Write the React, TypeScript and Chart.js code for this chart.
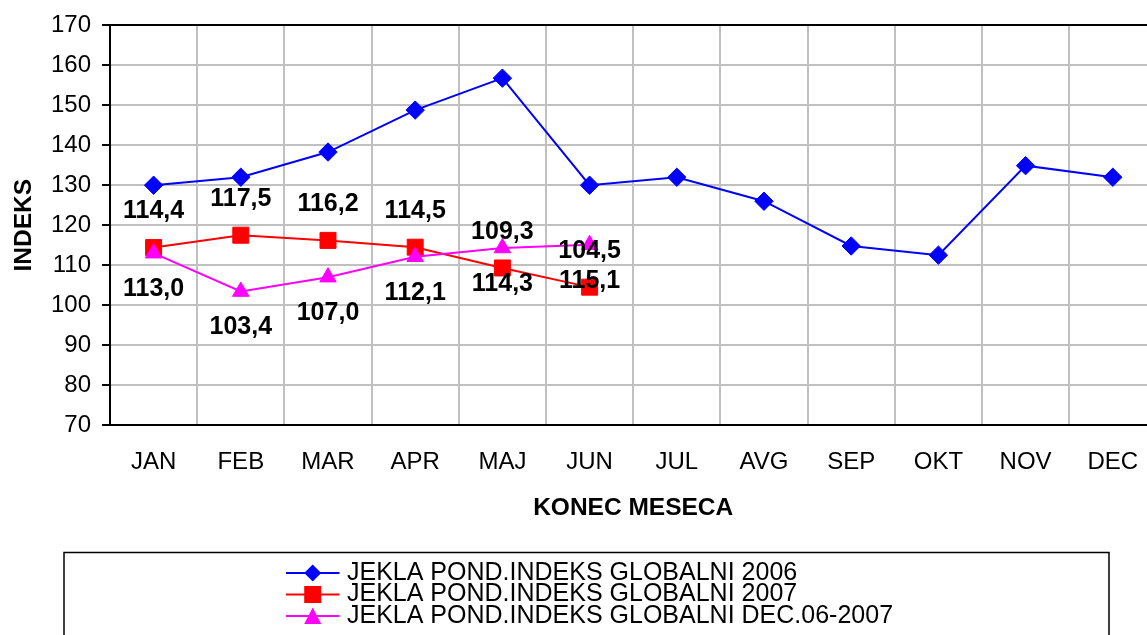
import React, { useEffect, useRef } from 'react';
import { Chart, registerables } from 'chart.js';

Chart.register(...registerables);

const months = ['JAN', 'FEB', 'MAR', 'APR', 'MAJ', 'JUN', 'JUL', 'AVG', 'SEP', 'OKT', 'NOV', 'DEC'];
const globalni2006 = [130, 132, 138.3, 148.8, 156.8, 130, 132, 126, 114.8, 112.5, 134.9, 132];
const globalni2007 = [114.4, 117.5, 116.2, 114.5, 109.3, 104.5];
const globalniDec062007 = [113.0, 103.4, 107.0, 112.1, 114.3, 115.1];
const seriesNames = [
  'JEKLA POND.INDEKS GLOBALNI 2006',
  'JEKLA POND.INDEKS GLOBALNI 2007',
  'JEKLA POND.INDEKS GLOBALNI DEC.06-2007',
];
const yMin = 70;
const yMax = 170;
const yStep = 10;

const FONT = '"Liberation Sans", Arial, Helvetica, sans-serif';
const CANVAS_W = 1170;
const CANVAS_H = 660;

function drawMarker(ctx: CanvasRenderingContext2D, style: string, x: number, y: number, color: string) {
  ctx.save();
  ctx.fillStyle = color;
  ctx.beginPath();
  if (style === 'rectRot') {
    const r = 8.5;
    ctx.moveTo(x - r, y);
    ctx.lineTo(x, y - r);
    ctx.lineTo(x + r, y);
    ctx.lineTo(x, y + r);
    ctx.closePath();
  } else if (style === 'rect') {
    ctx.rect(x - 8.5, y - 8.5, 17, 17);
  } else {
    ctx.moveTo(x, y - 8.5);
    ctx.lineTo(x + 8.5, y + 8);
    ctx.lineTo(x - 8.5, y + 8);
    ctx.closePath();
  }
  ctx.fill();
  ctx.restore();
}

const plotBorderPlugin = {
  id: 'plotBorder',
  beforeDatasetsDraw(chart: any) {
    const { ctx, chartArea } = chart;
    ctx.save();
    ctx.strokeStyle = '#000';
    ctx.lineWidth = 2;
    ctx.beginPath();
    ctx.moveTo(chartArea.left, Math.round(chartArea.top));
    ctx.lineTo(chartArea.right, Math.round(chartArea.top));
    ctx.lineTo(chartArea.right, chartArea.bottom);
    ctx.stroke();
    ctx.restore();
  },
};

const dataLabelPlugin = {
  id: 'pointValueLabels',
  afterDatasetsDraw(chart: any) {
    const { ctx } = chart;
    ctx.save();
    ctx.font = `bold 25px ${FONT}`;
    ctx.fillStyle = '#000';
    ctx.textAlign = 'center';
    ctx.textBaseline = 'middle';
    chart.data.datasets.forEach((ds: any, i: number) => {
      if (!ds.labelOffset) return;
      const meta = chart.getDatasetMeta(i);
      meta.data.forEach((pt: any, j: number) => {
        const v = ds.data[j];
        if (v == null) return;
        const txt = Number(v).toFixed(1).replace('.', ',');
        ctx.fillText(txt, pt.x, pt.y + ds.labelOffset);
      });
    });
    ctx.restore();
  },
};

const boxedLegendPlugin = {
  id: 'boxedLegend',
  afterDraw(chart: any) {
    const { ctx } = chart;
    ctx.save();
    ctx.strokeStyle = '#000';
    ctx.lineWidth = 1.5;
    ctx.strokeRect(64, 552.5, 1045, 140);
    const rows = [573, 594.5, 616];
    ctx.font = `25px ${FONT}`;
    ctx.textBaseline = 'middle';
    ctx.textAlign = 'left';
    chart.data.datasets.forEach((ds: any, i: number) => {
      const y = rows[i];
      ctx.strokeStyle = ds.borderColor;
      ctx.lineWidth = 2;
      ctx.beginPath();
      ctx.moveTo(286, y);
      ctx.lineTo(339.5, y);
      ctx.stroke();
      drawMarker(ctx, ds.pointStyle, 312.7, y, ds.borderColor);
      ctx.fillStyle = '#000';
      ctx.fillText(ds.label, 347, y);
    });
    ctx.restore();
  },
};

export default function App() {
  const canvasRef = useRef<HTMLCanvasElement | null>(null);

  useEffect(() => {
    const canvas = canvasRef.current;
    if (!canvas) return;
    const chart = new Chart(canvas, {
      type: 'line',
      data: {
        labels: months,
        datasets: [
          {
            label: seriesNames[0],
            data: globalni2006,
            borderColor: '#0000FF',
            backgroundColor: '#0000FF',
            borderWidth: 2,
            pointStyle: 'rectRot',
            pointRadius: 9.2,
            pointBorderWidth: 1,
            pointBackgroundColor: '#0000FF',
            pointBorderColor: '#0000FF',
            tension: 0,
            order: 2,
          } as any,
          {
            label: seriesNames[1],
            data: globalni2007,
            borderColor: '#FF0000',
            backgroundColor: '#FF0000',
            borderWidth: 2,
            pointStyle: 'rect',
            pointRadius: 11.3,
            pointBorderWidth: 1,
            pointBackgroundColor: '#FF0000',
            pointBorderColor: '#FF0000',
            tension: 0,
            order: 1,
            labelOffset: -36,
          } as any,
          {
            label: seriesNames[2],
            data: globalniDec062007,
            borderColor: '#FF00FF',
            backgroundColor: '#FF00FF',
            borderWidth: 2,
            pointStyle: 'triangle',
            pointRadius: 9.5,
            pointBorderWidth: 1,
            pointBackgroundColor: '#FF00FF',
            pointBorderColor: '#FF00FF',
            tension: 0,
            order: 0,
            labelOffset: 36,
          } as any,
        ],
      },
      options: {
        animation: false,
        responsive: false,
        maintainAspectRatio: false,
        devicePixelRatio: 1,
        events: [],
        layout: {
          padding: { left: 0, top: 24, right: CANVAS_W - 1156.4, bottom: 135 },
        },
        plugins: {
          legend: { display: false },
          tooltip: { enabled: false },
          title: { display: false },
        },
        scales: {
          x: {
            type: 'category',
            offset: true,
            grid: {
              offset: true,
              color: '#c0c0c0',
              lineWidth: 2,
              drawTicks: false,
            },
            border: { color: '#000', width: 2 },
            ticks: {
              color: '#000',
              font: { family: FONT, size: 24 },
              padding: 23,
              maxRotation: 0,
              autoSkip: false,
            },
            title: {
              display: true,
              text: 'KONEC MESECA',
              color: '#000',
              font: { family: FONT, size: 24.5, weight: 'bold' },
              padding: { top: 0, bottom: 2 },
            },
            afterFit: (s: any) => {
              s.height = 100;
            },
          },
          y: {
            min: yMin,
            max: yMax,
            grid: {
              color: '#c0c0c0',
              lineWidth: 2,
              tickLength: 8,
              tickColor: '#000',
              tickWidth: 2,
            },
            border: { color: '#000', width: 2 },
            ticks: {
              stepSize: yStep,
              color: '#000',
              font: { family: FONT, size: 24 },
              padding: 11,
            },
            title: {
              display: true,
              text: 'INDEKS',
              color: '#000',
              font: { family: FONT, size: 24.5, weight: 'bold' },
              padding: { top: 10, bottom: 0 },
            },
            afterFit: (s: any) => {
              s.width = 110;
            },
          },
        },
      } as any,
      plugins: [plotBorderPlugin, dataLabelPlugin, boxedLegendPlugin],
    });
    return () => {
      chart.destroy();
    };
  }, []);

  return (
    <div
      style={{
        position: 'fixed',
        left: 0,
        top: 0,
        width: 1147,
        height: 635,
        overflow: 'hidden',
        background: '#fff',
      }}
    >
      <canvas
        ref={canvasRef}
        width={CANVAS_W}
        height={CANVAS_H}
        style={{ display: 'block', width: CANVAS_W, height: CANVAS_H }}
      />
    </div>
  );
}
